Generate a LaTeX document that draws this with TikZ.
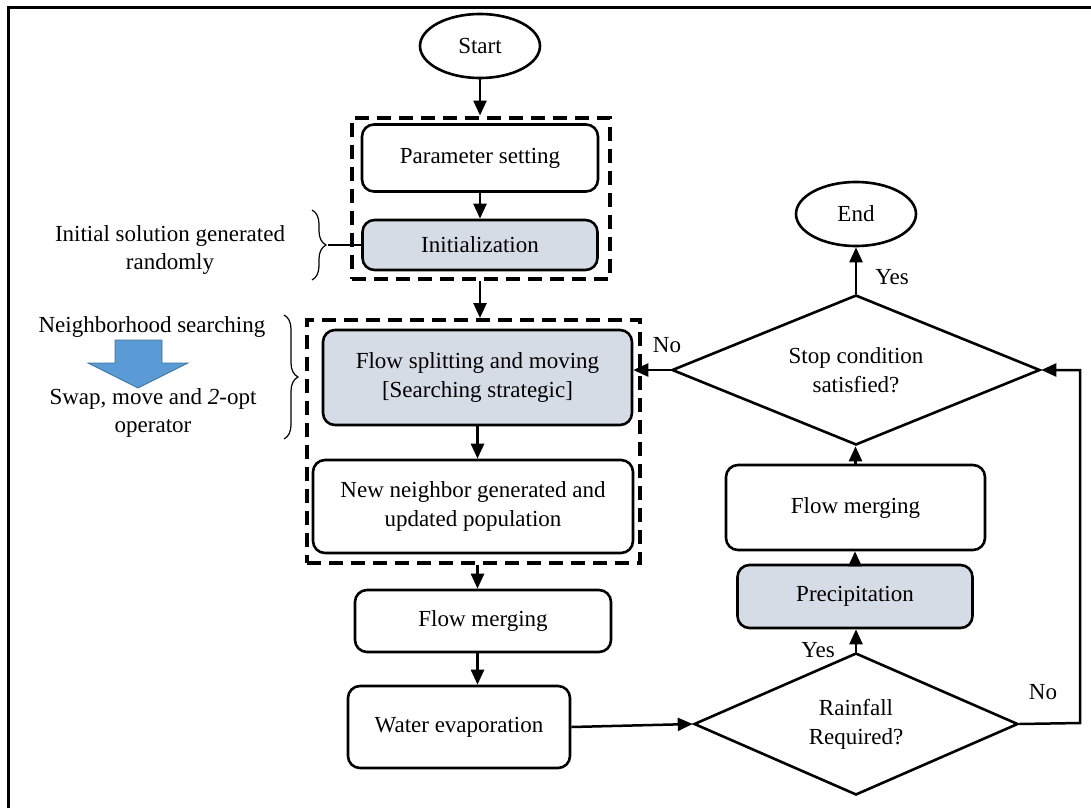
\documentclass[tikz,border=0pt]{standalone}
\usepackage{fontspec}
\setmainfont{Liberation Serif}
\usetikzlibrary{shapes.geometric,arrows.meta,decorations.pathreplacing}
\definecolor{boxgray}{RGB}{214,220,229}
\definecolor{arrfill}{RGB}{91,155,213}
\definecolor{arrline}{RGB}{65,113,156}
\begin{document}
\begin{tikzpicture}[x=1pt,y=-1pt,
  font=\fontsize{23}{27}\selectfont,
  box/.style={draw,line width=2.6pt,rounded corners=12pt,align=center,inner sep=0pt},
  gbox/.style={box,fill=boxgray},
  term/.style={draw,ellipse,line width=2.6pt,minimum width=120pt,minimum height=64pt,inner sep=0pt},
  dec/.style={draw,diamond,line width=2.6pt,align=center,inner sep=0pt,aspect=2.45},
  grp/.style={draw,line width=4pt,dash pattern=on 14pt off 8pt,inner sep=0pt},
  arr/.style={line width=2.5pt,-{Triangle[length=15pt,width=13pt]}},
  brc/.style={decorate,decoration={brace,amplitude=14pt},line width=1.2pt},
  note/.style={align=center,inner sep=0pt},
]
\useasboundingbox (0,0) rectangle (1091,808);
\draw[line width=3pt] (8,808) -- (8,8) -- (1091,8);

% left column
\node[term] (start) at (480,46) {Start};
\node[grp,minimum width=258pt,minimum height=161pt] (g1) at (481,198) {};
\node[box,minimum width=236pt,minimum height=67pt] (ps) at (480,158) {Parameter setting};
\node[gbox,minimum width=235pt,minimum height=50pt] (init) at (480,245) {Initialization};
\node[grp,minimum width=333pt,minimum height=243pt] (g2) at (473.5,441.5) {};
\node[gbox,minimum width=309pt,minimum height=95pt] (fs) at (477.5,377.5) {Flow splitting and moving\\[2pt][Searching strategic]};
\node[box,minimum width=320pt,minimum height=93pt] (nn) at (473,506.5) {New neighbor generated and\\[2pt]updated population};
\node[box,minimum width=256pt,minimum height=62pt] (fm1) at (483,621) {Flow merging};
\node[box,minimum width=222pt,minimum height=82pt] (we) at (459,727) {Water evaporation};

% right column
\node[dec,minimum width=324pt,minimum height=142pt] (rain) at (856,724) {Rainfall\\[2pt]Required?};
\node[gbox,minimum width=235pt,minimum height=63pt] (prec) at (855,596.5) {Precipitation};
\node[box,minimum width=259pt,minimum height=85pt] (fm2) at (855.5,507.5) {Flow merging};
\node[dec,minimum width=368pt,minimum height=150pt] (stop) at (856,370) {Stop condition\\[2pt]satisfied?};
\node[term] (end) at (856,214) {End};

% connectors
\draw[arr] (start.south) -- (start.south|-g1.north);
\draw[arr] (ps.south) -- (init.north);
\draw[arr] (start.south|-g1.south) -- (start.south|-g2.north);
\draw[arr] (fs.south) -- (fs.south|-nn.north);
\draw[arr] (fs.south|-g2.south) -- (fs.south|-fm1.north);
\draw[arr] (fs.south|-fm1.south) -- (fs.south|-we.north);
\draw[arr] (we.east) -- (rain.west);
\draw[arr] (rain.north) -- (rain.north|-prec.south);
\draw[arr] (prec.north) -- (prec.north|-fm2.south);
\draw[arr] (fm2.north) -- (fm2.north|-stop.south);
\draw[arr] (stop.north) -- (end.south);
\draw[arr] (stop.west) -- (stop.west-|fs.east);
\coordinate (lp) at (1080,723);
\draw[arr] (rain.east) -- (lp) |- (stop.east);

\node[note] (ly1) at (892,277) {Yes};
\node[note] (ln1) at (667,345) {No};
\node[note] (ly2) at (818,650) {Yes};
\node[note] (ln2) at (1043,692) {No};

% annotations
\node[note] (isg) at (170,250) {Initial solution generated\\[1pt]randomly};
\draw[brc] (312,210) -- (312,280);
\coordinate (b1) at (328,245);
\draw[line width=1.2pt] (b1) -- (init.west);

\node[note] (nbs) at (152,327) {Neighborhood searching};
\draw[brc] (284,315) -- (284,439);
\fill[arrfill,draw=arrline,line width=0.8pt] (115,340) -- (162,340) -- (162,363) -- (188,363) -- (138,388) -- (88,363) -- (115,363) -- cycle;
\node[note] (swp) at (153,413) {Swap, move and \textit{2}-opt\\[1pt]operator};
\end{tikzpicture}
\end{document}
